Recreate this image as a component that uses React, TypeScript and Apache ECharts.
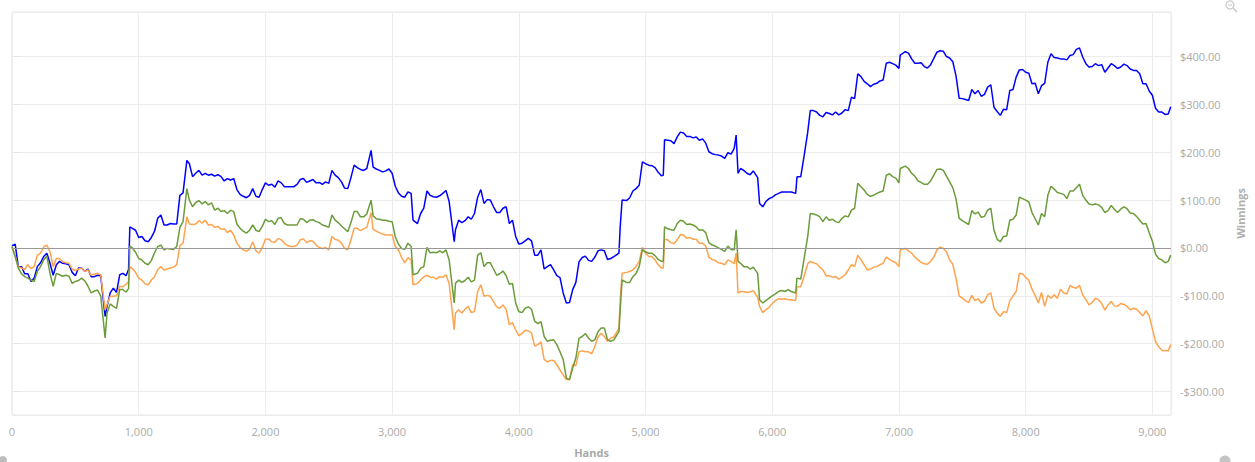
import { useEffect, useRef } from 'react';
import * as echarts from 'echarts';

// Hand counts at which the three cumulative curves were read
const HANDS = [
  0, 25, 50, 75, 100, 125, 150, 175, 200, 225, 250, 275, 300, 325, 350, 375, 400, 425, 450, 475,
  500, 525, 550, 575, 600, 625, 650, 675, 700, 735, 750, 775, 800, 825, 850, 875, 900, 920, 930, 950, 975,
  1000, 1025, 1050, 1075, 1100, 1125, 1150, 1175, 1200, 1225, 1250, 1275, 1300, 1325, 1350, 1380, 1400, 1425, 1450, 1475,
  1500, 1525, 1550, 1575, 1600, 1625, 1650, 1675, 1700, 1725, 1750, 1775, 1800, 1825, 1850, 1875, 1900, 1925, 1950, 1975,
  2000, 2025, 2050, 2075, 2100, 2125, 2150, 2175, 2200, 2225, 2250, 2275, 2300, 2325, 2350, 2375, 2400, 2425, 2450, 2475,
  2500, 2525, 2550, 2575, 2600, 2625, 2650, 2675, 2700, 2725, 2750, 2775, 2800, 2834, 2850, 2875, 2900, 2925, 2950, 2975,
  3000, 3025, 3050, 3075, 3100, 3125, 3150, 3165, 3200, 3225, 3250, 3275, 3300, 3325, 3350, 3375, 3400, 3425, 3450,
  3490, 3500, 3525, 3550, 3575, 3600, 3625, 3650, 3675, 3700, 3725, 3750, 3775, 3800, 3825, 3850, 3875, 3900, 3925, 3950, 3975,
  4000, 4025, 4050, 4075, 4100, 4125, 4150, 4175, 4200, 4225, 4250, 4275, 4300, 4325, 4350, 4375, 4400, 4425, 4450, 4475,
  4500, 4525, 4550, 4575, 4600, 4625, 4650, 4675, 4700, 4725, 4750, 4790, 4800, 4815, 4850, 4875, 4900, 4925, 4950, 4975,
  5000, 5025, 5050, 5075, 5100, 5125, 5140, 5150, 5175, 5200, 5225, 5250, 5275, 5300, 5325, 5350, 5375, 5400, 5425, 5450, 5475,
  5500, 5525, 5550, 5575, 5600, 5625, 5650, 5675, 5700, 5715, 5730, 5750, 5775, 5800, 5825, 5850, 5885, 5900, 5925, 5950, 5975,
  6000, 6025, 6050, 6075, 6100, 6125, 6150, 6185, 6195, 6200, 6225, 6250, 6280, 6300, 6325, 6350, 6375, 6400, 6425, 6450, 6475,
  6500, 6525, 6550, 6575, 6600, 6625, 6650, 6675, 6700, 6725, 6750, 6775, 6800, 6825, 6850, 6875, 6900, 6925, 6950, 6975,
  7000, 7010, 7050, 7075, 7100, 7125, 7150, 7175, 7200, 7225, 7250, 7275, 7300, 7325, 7350, 7375, 7400, 7425, 7450, 7475,
  7500, 7525, 7550, 7575, 7600, 7625, 7650, 7675, 7700, 7725, 7750, 7775, 7800, 7825, 7850, 7875, 7900, 7925, 7950, 7975,
  8000, 8025, 8050, 8075, 8100, 8125, 8150, 8175, 8200, 8225, 8250, 8275, 8300, 8325, 8350, 8375, 8400, 8425, 8450, 8475,
  8500, 8525, 8550, 8575, 8600, 8625, 8650, 8675, 8700, 8725, 8750, 8775, 8800, 8825, 8850, 8875, 8900, 8925, 8950, 8975,
  9000, 9025, 9050, 9075, 9100, 9125, 9145,
];

const BLUE = [
  5, 8, -39, -39, -54, -54, -70, -63, -39, -31, -18, -11, -32, -57, -35, -28, -32, -33, -35, -51,
  -58, -42, -42, -49, -44, -60, -60, -57, -58, -143, -122, -94, -84, -93, -56, -53, -58, -45, 44, 41, 37,
  22, 24, 15, 13, 22, 35, 62, 69, 48, 48, 51, 50, 50, 110, 115, 183, 176, 149, 156, 162,
  152, 156, 152, 154, 150, 153, 149, 140, 145, 142, 145, 122, 112, 108, 105, 110, 124, 108, 106, 122,
  136, 131, 133, 127, 140, 136, 128, 128, 128, 128, 133, 143, 145, 137, 140, 143, 136, 137, 133, 138,
  135, 162, 152, 147, 138, 125, 124, 147, 173, 168, 164, 162, 166, 204, 169, 165, 162, 159, 161, 165,
  156, 129, 115, 108, 106, 117, 114, 58, 51, 72, 83, 119, 110, 107, 106, 109, 114, 120, 97,
  13, 38, 58, 53, 57, 65, 60, 72, 106, 122, 93, 101, 100, 86, 74, 74, 83, 86, 51, 58, 24,
  8, 10, 15, 20, 15, -15, -15, -4, -44, -39, -35, -46, -58, -62, -94, -115, -114, -87, -72, -29,
  -20, -17, -26, -28, -19, -6, -4, -6, -24, -22, -18, -11, 44, 100, 99, 105, 119, 124, 131, 180,
  176, 173, 172, 168, 158, 151, 152, 226, 225, 224, 218, 232, 242, 240, 233, 233, 230, 232, 225, 228, 219,
  201, 197, 195, 194, 192, 187, 199, 196, 208, 236, 156, 166, 162, 156, 153, 161, 147, 93, 86, 97, 103,
  106, 111, 114, 117, 117, 117, 117, 114, 148, 149, 149, 190, 242, 287, 287, 284, 277, 274, 283, 281, 278,
  284, 278, 282, 289, 287, 315, 312, 364, 358, 348, 343, 337, 342, 344, 349, 351, 386, 388, 385, 382,
  375, 403, 410, 407, 395, 386, 386, 387, 379, 376, 383, 396, 409, 412, 411, 400, 397, 389, 360, 313,
  312, 310, 308, 331, 322, 329, 317, 321, 336, 341, 294, 285, 277, 290, 289, 329, 331, 357, 372, 373,
  367, 365, 343, 344, 322, 339, 344, 388, 406, 398, 397, 395, 395, 393, 402, 404, 415, 418, 399, 385,
  378, 379, 385, 381, 383, 367, 376, 385, 381, 375, 378, 384, 381, 374, 371, 371, 364, 343, 343, 328,
  319, 292, 284, 284, 279, 280, 295,
];

const GREEN = [
  3, -18, -42, -54, -60, -63, -67, -70, -49, -39, -25, -17, -53, -80, -53, -56, -59, -57, -59, -74,
  -70, -68, -63, -69, -80, -94, -90, -88, -100, -188, -136, -117, -122, -126, -87, -87, -92, -85, 4, 0, -9,
  -22, -25, -32, -35, -26, -10, 3, 6, -4, -1, -2, -3, 3, 43, 55, 124, 100, 86, 95, 99,
  92, 97, 90, 94, 79, 83, 76, 78, 72, 79, 76, 50, 41, 35, 31, 37, 48, 37, 34, 45,
  60, 55, 57, 49, 62, 63, 51, 48, 48, 48, 48, 61, 60, 53, 58, 59, 55, 53, 48, 46,
  43, 69, 58, 53, 46, 40, 34, 53, 76, 76, 65, 65, 71, 100, 67, 61, 60, 58, 58, 56,
  55, 23, 8, -1, -3, 10, 3, -56, -53, -42, -39, 1, -10, -9, -10, -6, -10, -4, -25,
  -115, -74, -67, -72, -68, -61, -71, -67, -15, -10, -39, -31, -31, -44, -57, -54, -48, -58, -76, -74, -115,
  -133, -135, -126, -123, -128, -153, -158, -154, -185, -195, -193, -192, -202, -217, -233, -272, -275, -251, -230, -189,
  -185, -179, -188, -195, -192, -175, -167, -167, -192, -195, -192, -175, -129, -67, -72, -72, -60, -53, -39, -4,
  -8, -11, -11, -16, -24, -28, -28, 44, 40, 38, 37, 51, 58, 56, 49, 50, 48, 44, 37, 38, 32,
  11, 6, 4, 0, -3, -7, 4, -3, -4, 38, -28, -32, -39, -39, -44, -40, -53, -108, -115, -110, -105,
  -100, -96, -91, -89, -91, -87, -91, -94, -63, -63, -65, -25, 24, 72, 71, 69, 65, 55, 65, 58, 60,
  55, 53, 62, 67, 65, 79, 83, 135, 128, 121, 112, 108, 110, 114, 117, 119, 152, 155, 149, 146,
  136, 166, 171, 166, 156, 150, 140, 137, 133, 133, 140, 152, 164, 165, 162, 150, 138, 126, 103, 62,
  57, 53, 49, 78, 71, 75, 64, 66, 79, 83, 37, 18, 13, 24, 25, 58, 60, 69, 106, 103,
  100, 96, 74, 61, 48, 72, 65, 110, 129, 123, 116, 114, 112, 103, 119, 119, 126, 133, 110, 100,
  92, 90, 92, 90, 85, 74, 78, 89, 81, 74, 81, 86, 82, 73, 72, 66, 58, 50, 51, 32,
  14, -13, -22, -25, -31, -28, -15,
];

const ORANGE = [
  3, -17, -39, -42, -45, -35, -43, -39, -15, -11, 2, 6, -8, -39, -22, -22, -29, -31, -32, -44,
  -47, -44, -42, -49, -46, -57, -55, -53, -56, -130, -118, -101, -101, -100, -80, -81, -76, -70, -39, -43, -51,
  -63, -67, -75, -77, -67, -60, -45, -39, -46, -44, -42, -40, -35, 5, 10, 65, 50, 49, 50, 57,
  52, 58, 48, 49, 43, 45, 39, 40, 32, 37, 27, 10, 1, -4, -7, -2, 13, -6, -11, 1,
  18, 19, 13, 12, 20, 17, 10, 5, 3, 3, 6, 17, 19, 11, 15, 14, 6, 1, -1, 1,
  -4, 24, 18, 16, 10, -1, -4, 17, 41, 41, 36, 40, 43, 74, 39, 35, 32, 29, 27, 27,
  27, 3, -4, -20, -31, -20, -25, -77, -74, -67, -60, -57, -61, -61, -65, -60, -61, -56, -74,
  -171, -136, -129, -136, -128, -122, -135, -133, -91, -77, -101, -99, -101, -112, -123, -126, -119, -129, -160, -156, -171,
  -183, -179, -172, -173, -178, -205, -202, -196, -233, -238, -235, -235, -244, -255, -265, -275, -275, -244, -246, -217,
  -215, -217, -217, -221, -206, -186, -178, -185, -195, -188, -186, -168, -108, -53, -51, -49, -46, -39, -28, 1,
  -11, -18, -18, -25, -35, -42, -42, 18, 17, 11, 9, 17, 28, 27, 20, 22, 18, 18, 10, 10, 4,
  -19, -24, -26, -31, -32, -35, -25, -28, -33, -11, -94, -91, -91, -93, -92, -89, -103, -122, -135, -129, -124,
  -116, -110, -106, -107, -106, -108, -108, -110, -81, -81, -81, -60, -33, -28, -31, -33, -40, -46, -58, -58, -61,
  -60, -65, -61, -56, -46, -35, -39, -15, -25, -35, -46, -44, -40, -39, -35, -32, -19, -24, -28, -31,
  -39, -4, -1, -6, -11, -19, -25, -30, -33, -34, -28, -19, -4, 2, -1, -8, -25, -34, -63, -100,
  -105, -110, -114, -99, -110, -106, -115, -111, -98, -94, -126, -136, -143, -133, -135, -110, -100, -91, -53, -54,
  -61, -68, -86, -99, -115, -93, -122, -99, -105, -98, -105, -86, -94, -96, -79, -82, -84, -78, -98, -108,
  -119, -114, -105, -108, -116, -130, -119, -112, -121, -122, -116, -118, -122, -129, -126, -128, -135, -142, -131, -142,
  -169, -196, -206, -214, -214, -215, -202,
];

const X_MIN = 0;
const X_MAX = 9147;
const X_STEP = 1000;
const Y_MIN = -349;
const Y_MAX = 493;
const Y_STEP = 100;

function money(v: number): string {
  const s = '$' + Math.abs(v).toFixed(2);
  return v < 0 ? '-' + s : s;
}

export default function App() {
  const ref = useRef<HTMLDivElement>(null);

  useEffect(() => {
    if (!ref.current) return;
    const chart = echarts.init(ref.current, undefined, { renderer: 'svg' });
    const font = "'Open Sans', 'Noto Sans', sans-serif";
    const zip = (vals: number[]) => {
      const n = Math.min(HANDS.length, vals.length);
      const out: number[][] = [];
      for (let i = 0; i < n; i++) out.push([HANDS[i], vals[i]]);
      return out;
    };
    const lineSeries = (name: string, vals: number[], color: string, extra: any = {}) => ({
      name,
      type: 'line',
      data: zip(vals),
      showSymbol: false,
      symbol: 'none',
      lineStyle: { color, width: 1.5 },
      itemStyle: { color },
      ...extra,
    });

    chart.setOption({
      animation: false,
      textStyle: { fontFamily: font },
      grid: {
        left: 12,
        right: 84,
        top: 12,
        bottom: 47,
        containLabel: false,
        outerBoundsMode: 'none',
        show: true,
        borderColor: '#e6e6e6',
        borderWidth: 1,
      },
      xAxis: {
        type: 'value',
        min: X_MIN,
        max: X_MAX,
        interval: X_STEP,
        name: 'Hands',
        nameLocation: 'middle',
        nameGap: 32,
        nameTextStyle: { color: '#a8a8a8', fontWeight: 'bold', fontSize: 11, fontFamily: font },
        axisLine: { show: false },
        axisTick: { show: true, length: 5, lineStyle: { color: '#e6e6e6' } },
        axisLabel: {
          color: '#aaaaaa',
          fontSize: 11,
          margin: 11,
          fontFamily: font,
          showMaxLabel: false,
          formatter: (v: number) => (v % X_STEP === 0 ? v.toLocaleString('en-US') : ''),
        },
        splitLine: { show: true, lineStyle: { color: '#ececec', width: 1 } },
      },
      yAxis: {
        type: 'value',
        position: 'right',
        min: Y_MIN,
        max: Y_MAX,
        minInterval: Y_STEP,
        maxInterval: Y_STEP,
        name: 'Winnings',
        nameLocation: 'middle',
        nameGap: 58,
        nameRotate: 90,
        nameTextStyle: { color: '#b0b0b0', fontWeight: 'bold', fontSize: 11, fontFamily: font },
        axisLine: { show: false },
        axisTick: { show: true, length: 8, lineStyle: { color: '#e6e6e6' } },
        axisLabel: {
          color: '#aaaaaa',
          fontSize: 11,
          margin: 9,
          fontFamily: font,
          showMinLabel: false,
          showMaxLabel: false,
          formatter: (v: number) => (Math.abs(v % Y_STEP) < 1e-6 ? money(v) : ''),
        },
        splitLine: { show: true, lineStyle: { color: '#ececec', width: 1 } },
      },
      series: [
        lineSeries('Winnings', BLUE, '#0000ff', {
          markLine: {
            silent: true,
            symbol: ['none', 'none'],
            label: { show: false },
            lineStyle: { color: '#999999', width: 1, type: 'solid' },
            data: [{ yAxis: 0 }],
          },
        }),
        lineSeries('Showdown', ORANGE, '#ffa34d'),
        lineSeries('All-in EV', GREEN, '#6b9c3a'),
      ],
      graphic: [
        {
          type: 'circle',
          shape: { cx: 1230, cy: 5, r: 4 },
          style: { fill: 'none', stroke: '#c8c8c8', lineWidth: 1.2 },
        },
        {
          type: 'line',
          shape: { x1: 1228, y1: 5, x2: 1232, y2: 5 },
          style: { stroke: '#c8c8c8', lineWidth: 1 },
        },
        {
          type: 'line',
          shape: { x1: 1233, y1: 8, x2: 1237, y2: 12 },
          style: { stroke: '#c8c8c8', lineWidth: 1.5 },
        },
        {
          type: 'circle',
          shape: { cx: 1225, cy: 461, r: 5.5 },
          style: { fill: '#c4c4c4' },
        },
        {
          type: 'circle',
          shape: { cx: 3, cy: 460, r: 4 },
          style: { fill: '#bdbdbd' },
        },
      ],
    });

    return () => chart.dispose();
  }, []);

  return (
    <div
      ref={ref}
      style={{ position: 'fixed', left: 0, top: 0, width: '1255px', height: '462px', background: '#fff' }}
    />
  );
}
